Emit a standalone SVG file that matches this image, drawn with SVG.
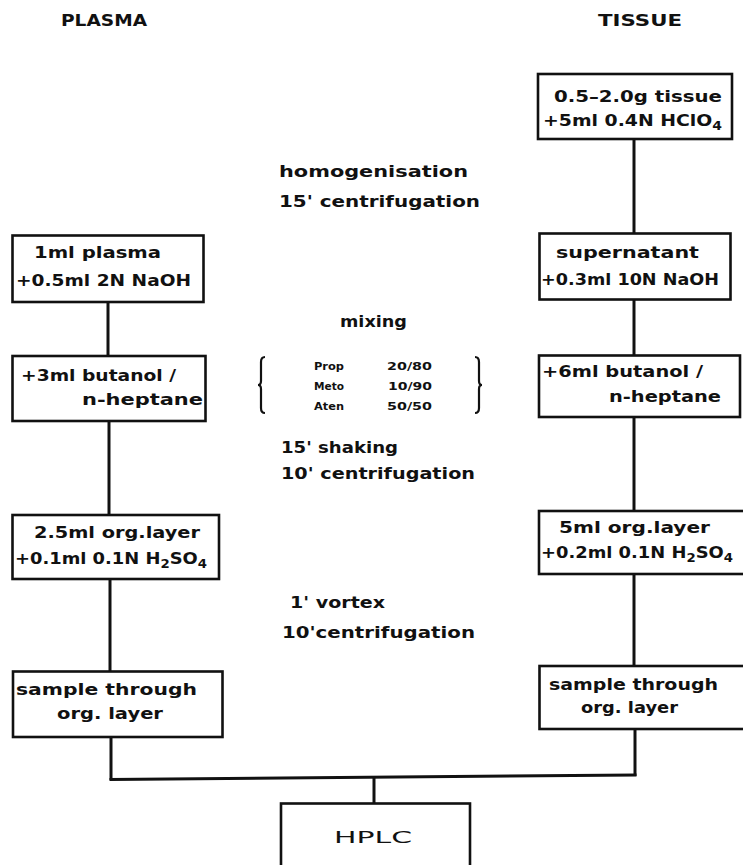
<svg xmlns="http://www.w3.org/2000/svg" width="743" height="865" viewBox="0 0 743 865">
<style>
  text { font-family: "DejaVu Sans", "Liberation Sans", sans-serif; font-weight: bold; fill: #111; }
  .hdr { font-size: 15px; }
  .bx { font-size: 15.5px; }
  .mid { font-size: 16.5px; }
  .tbl { font-size: 11px; }
  .hp { font-size: 16px; font-weight: normal; }
  .box { fill: #fff; stroke: #111; stroke-width: 2.6; }
  .con { fill: none; stroke: #111; stroke-width: 3; }
  .brace { fill: none; stroke: #111; stroke-width: 2.2; }
</style>
<rect width="743" height="865" fill="#fff"/>

<g id="headers">
  <text class="hdr" x="61" y="26" textLength="86" lengthAdjust="spacingAndGlyphs">PLASMA</text>
  <text class="hdr" x="598" y="26" textLength="84" lengthAdjust="spacingAndGlyphs">TISSUE</text>
</g>

<g id="connectors">
  <line class="con" x1="634" y1="139" x2="634" y2="234"/>
  <line class="con" x1="634" y1="299" x2="634" y2="356"/>
  <line class="con" x1="634" y1="417" x2="634" y2="512"/>
  <line class="con" x1="634" y1="574" x2="634" y2="667"/>
  <line class="con" x1="635" y1="729" x2="635" y2="776"/>
  <line class="con" x1="108" y1="302" x2="108" y2="357"/>
  <line class="con" x1="109" y1="421" x2="109" y2="516"/>
  <line class="con" x1="110" y1="579" x2="110" y2="672"/>
  <line class="con" x1="111" y1="737" x2="111" y2="780"/>
  <polyline class="con" points="109.5,779.5 636.5,775"/>
  <line class="con" x1="374" y1="777.5" x2="374" y2="804"/>
</g>

<g id="tissue-start">
  <rect class="box" x="538" y="74" width="194" height="65"/>
  <text class="bx" x="554" y="102" textLength="168" lengthAdjust="spacingAndGlyphs">0.5–2.0g tissue</text>
  <text class="bx" x="543" y="126" textLength="179" lengthAdjust="spacingAndGlyphs">+5ml 0.4N HClO<tspan dy="4" font-size="11.5">4</tspan></text>
</g>

<g id="step-homogenisation">
  <text class="mid" x="279" y="177" textLength="189" lengthAdjust="spacingAndGlyphs">homogenisation</text>
  <text class="mid" x="279" y="207" textLength="201" lengthAdjust="spacingAndGlyphs">15' centrifugation</text>
</g>

<g id="plasma-start">
  <rect class="box" x="12.5" y="235.5" width="191" height="66.5"/>
  <text class="bx" x="34" y="258" textLength="127" lengthAdjust="spacingAndGlyphs">1ml plasma</text>
  <text class="bx" x="16" y="286" textLength="175" lengthAdjust="spacingAndGlyphs">+0.5ml 2N NaOH</text>
</g>

<g id="supernatant">
  <rect class="box" x="539.5" y="233.5" width="191" height="66"/>
  <text class="bx" x="556" y="258" textLength="143" lengthAdjust="spacingAndGlyphs">supernatant</text>
  <text class="bx" x="541" y="285" textLength="178" lengthAdjust="spacingAndGlyphs">+0.3ml 10N NaOH</text>
</g>

<g id="step-mixing">
  <text class="mid" x="340" y="327" textLength="67" lengthAdjust="spacingAndGlyphs">mixing</text>
  <path class="brace" d="M265,357 Q261,357 261,362 L261,381 Q261,385 258,385 Q261,385 261,389 L261,408 Q261,413 265,413"/>
  <path class="brace" d="M475,357 Q479,357 479,362 L479,381 Q479,385 482,385 Q479,385 479,389 L479,408 Q479,413 475,413"/>
  <text class="tbl" x="314" y="370" textLength="30" lengthAdjust="spacingAndGlyphs">Prop</text>
  <text class="tbl" x="387" y="370" textLength="45" lengthAdjust="spacingAndGlyphs">20/80</text>
  <text class="tbl" x="314" y="390" textLength="30" lengthAdjust="spacingAndGlyphs">Meto</text>
  <text class="tbl" x="388" y="390" textLength="44" lengthAdjust="spacingAndGlyphs">10/90</text>
  <text class="tbl" x="314" y="410" textLength="30" lengthAdjust="spacingAndGlyphs">Aten</text>
  <text class="tbl" x="387" y="410" textLength="45" lengthAdjust="spacingAndGlyphs">50/50</text>
</g>

<g id="plasma-butanol">
  <rect class="box" x="12.5" y="356" width="193" height="65"/>
  <text class="bx" x="21" y="381" textLength="155" lengthAdjust="spacingAndGlyphs">+3ml butanol /</text>
  <text class="bx" x="82" y="405" textLength="121" lengthAdjust="spacingAndGlyphs">n-heptane</text>
</g>

<g id="tissue-butanol">
  <rect class="box" x="539" y="355.5" width="201" height="61.5"/>
  <text class="bx" x="542" y="377" textLength="161" lengthAdjust="spacingAndGlyphs">+6ml butanol /</text>
  <text class="bx" x="609" y="402" textLength="112" lengthAdjust="spacingAndGlyphs">n-heptane</text>
</g>

<g id="step-shaking">
  <text class="mid" x="281" y="453" textLength="117" lengthAdjust="spacingAndGlyphs">15' shaking</text>
  <text class="mid" x="281" y="479" textLength="194" lengthAdjust="spacingAndGlyphs">10' centrifugation</text>
</g>

<g id="plasma-org">
  <rect class="box" x="12.5" y="515" width="206.5" height="64"/>
  <text class="bx" x="34" y="538" textLength="166" lengthAdjust="spacingAndGlyphs">2.5ml org.layer</text>
  <text class="bx" x="15" y="564" textLength="192" lengthAdjust="spacingAndGlyphs">+0.1ml 0.1N H<tspan dy="4" font-size="11.5">2</tspan><tspan dy="-4">SO</tspan><tspan dy="4" font-size="11.5">4</tspan></text>
</g>

<g id="tissue-org">
  <rect class="box" x="539" y="511" width="210" height="63"/>
  <text class="bx" x="559" y="533" textLength="151" lengthAdjust="spacingAndGlyphs">5ml org.layer</text>
  <text class="bx" x="541" y="558" textLength="192" lengthAdjust="spacingAndGlyphs">+0.2ml 0.1N H<tspan dy="4" font-size="11.5">2</tspan><tspan dy="-4">SO</tspan><tspan dy="4" font-size="11.5">4</tspan></text>
</g>

<g id="step-vortex">
  <text class="mid" x="290" y="608" textLength="95" lengthAdjust="spacingAndGlyphs">1' vortex</text>
  <text class="mid" x="282" y="638" textLength="193" lengthAdjust="spacingAndGlyphs">10'centrifugation</text>
</g>

<g id="plasma-sample">
  <rect class="box" x="13" y="671.5" width="209.5" height="65.5"/>
  <text class="bx" x="16" y="695" textLength="181" lengthAdjust="spacingAndGlyphs">sample through</text>
  <text class="bx" x="57" y="719" textLength="106" lengthAdjust="spacingAndGlyphs">org. layer</text>
</g>

<g id="tissue-sample">
  <rect class="box" x="539.5" y="666" width="210" height="63"/>
  <text class="bx" x="549" y="690" textLength="169" lengthAdjust="spacingAndGlyphs">sample through</text>
  <text class="bx" x="581" y="713" textLength="97" lengthAdjust="spacingAndGlyphs">org. layer</text>
</g>

<g id="hplc">
  <rect class="box" x="281" y="803.5" width="189" height="70"/>
  <text class="hp" x="334" y="843" textLength="78" lengthAdjust="spacingAndGlyphs">HPLC</text>
</g>
</svg>
